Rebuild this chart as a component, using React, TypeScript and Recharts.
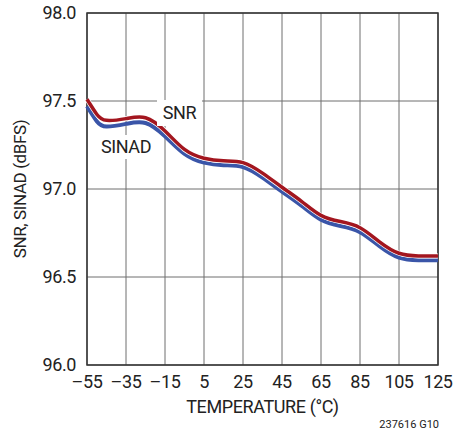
import { LineChart, Line, XAxis, YAxis, CartesianGrid, ReferenceArea } from 'recharts'

const TEMPS = [-55, -50, -45, -35, -25, -15, -5, 5, 15, 25, 35, 45, 55, 65, 75, 85, 95, 105, 115, 125]
const SNR = [97.51, 97.425, 97.39, 97.4, 97.405, 97.33, 97.225, 97.175, 97.16, 97.15, 97.09, 97.01, 96.93, 96.85, 96.815, 96.78, 96.7, 96.635, 96.62, 96.62]
const SINAD = [97.47, 97.385, 97.355, 97.37, 97.375, 97.3, 97.2, 97.15, 97.135, 97.125, 97.065, 96.985, 96.905, 96.825, 96.79, 96.755, 96.675, 96.61, 96.595, 96.595]
const X_TICKS = [-55, -35, -15, 5, 25, 45, 65, 85, 105, 125]
const Y_TICKS = [96, 96.5, 97, 97.5, 98]

const data = TEMPS.map((t, i) => ({ t, snr: SNR[i], sinad: SINAD[i] }))

const FONT = '"Roboto", sans-serif'
const RED = '#a3161f'
const BLUE = '#3a55a8'
const TXT = { fill: '#222', fontSize: 18, fontFamily: FONT, letterSpacing: -0.4 }

export default function App() {
  return (
    <div style={{ position: 'absolute', left: 0, top: 0, width: 454, height: 435, background: '#fff', fontFamily: FONT, letterSpacing: -0.4 }}>
      <LineChart width={454} height={435} data={data} margin={{ top: 13, right: 16, bottom: 0, left: 0 }}>
        <CartesianGrid stroke="#6e6e6e" strokeWidth={1} />
        <XAxis
          dataKey="t"
          type="number"
          domain={[-55, 125]}
          ticks={X_TICKS}
          tickFormatter={(v: number) => String(v).replace('-', '\u2013')}
          tick={TXT}
          tickLine={false}
          tickSize={0}
          tickMargin={10}
          axisLine={false}
          height={70}
          label={{ value: 'TEMPERATURE (°C)', position: 'insideBottom', offset: 22, ...TXT }}
        />
        <YAxis
          type="number"
          domain={[96, 98]}
          ticks={Y_TICKS}
          tickFormatter={(v: number) => v.toFixed(1)}
          tick={TXT}
          tickLine={false}
          tickSize={0}
          tickMargin={11}
          axisLine={false}
          width={87}
          label={{ value: 'SNR, SINAD (dBFS)', angle: -90, position: 'insideLeft', offset: 20, ...TXT, fontSize: 17, style: { textAnchor: 'middle' } }}
        />
        <Line type="natural" dataKey="sinad" stroke={BLUE} strokeWidth={4} dot={false} isAnimationActive={false} />
        <Line type="natural" dataKey="snr" stroke="#fff" strokeWidth={5} dot={false} isAnimationActive={false} />
        <Line type="natural" dataKey="snr" stroke={RED} strokeWidth={3.5} dot={false} isAnimationActive={false} />
        <ReferenceArea x1={-55} x2={125} y1={96} y2={98} fill="none" fillOpacity={0} stroke="#333" strokeWidth={1.5} />
      </LineChart>
      <div style={{ position: 'absolute', left: 157, top: 100, width: 45, height: 26, background: '#fff', fontSize: 18, color: '#222', textAlign: 'center', lineHeight: '26px' }}>SNR</div>
      <div style={{ position: 'absolute', left: 100, top: 135, width: 52, height: 24, background: '#fff', fontSize: 18, color: '#222', textAlign: 'center', lineHeight: '24px' }}>SINAD</div>
      <div style={{ position: 'absolute', right: 15, top: 418, fontSize: 11, color: '#222', letterSpacing: 0 }}>237616 G10</div>
    </div>
  )
}
